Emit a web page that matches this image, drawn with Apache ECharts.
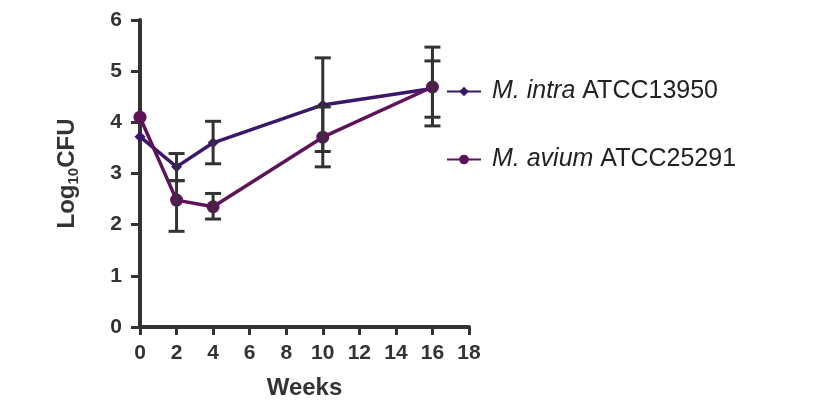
<!DOCTYPE html>
<html><head><meta charset="utf-8">
<script src="https://cdn.jsdelivr.net/npm/echarts@6/dist/echarts.min.js"></script>
<style>html,body{margin:0;padding:0;background:#fff}#c{width:827px;height:410px}</style>
</head><body><div id="c"></div>
<script>
const weeks = [0, 2, 4, 10, 16];
const intraMean = [3.72, 3.13, 3.60, 4.34, 4.66];
const intraLow  = [3.72, 2.86, 3.19, 3.43, 4.10];
const intraHigh = [3.72, 3.39, 4.02, 5.26, 5.20];
const aviumMean = [4.10, 2.48, 2.35, 3.71, 4.69];
const aviumLow  = [4.10, 1.87, 2.11, 3.13, 3.93];
const aviumHigh = [4.10, 2.86, 2.61, 4.30, 5.47];
const xTicks = [0, 2, 4, 6, 8, 10, 12, 14, 16, 18];
const yTicks = [0, 1, 2, 3, 4, 5, 6];

const intraColor = '#3b176c';
const aviumColor = '#5c1358';
const axisColor = '#333333';

function errData(low, high) {
  return weeks.map((w, i) => [w, low[i], high[i]]);
}
function errRender(params, api) {
  const x = api.value(0), lo = api.value(1), hi = api.value(2);
  if (lo === hi) return null;
  const pLo = api.coord([x, lo]), pHi = api.coord([x, hi]);
  const hw = 8;
  const st = {stroke: axisColor, lineWidth: 3};
  return {type: 'group', children: [
    {type: 'line', shape: {x1: pLo[0], y1: pLo[1], x2: pHi[0], y2: pHi[1]}, style: st},
    {type: 'line', shape: {x1: pLo[0]-hw, y1: pLo[1], x2: pLo[0]+hw, y2: pLo[1]}, style: st},
    {type: 'line', shape: {x1: pHi[0]-hw, y1: pHi[1], x2: pHi[0]+hw, y2: pHi[1]}, style: st}
  ]};
}

const chart = echarts.init(document.getElementById('c'));
const ff = 'Liberation Sans, Arial, sans-serif';
const labelFont = {fontFamily: ff, fontWeight: 'bold', fontSize: 21, color: '#333'};
chart.setOption({
  animation: false,
  grid: {left: 140, right: 358, top: 20, bottom: 83, containLabel: false},
  legend: {
    orient: 'vertical', left: 441, top: 74, itemGap: 43,
    itemWidth: 34, itemHeight: 12,
    data: ['intra', 'avium'],
    formatter: function(n) {
      return n === 'intra' ? '{i|M. intra} ATCC13950' : '{i|M. avium} ATCC25291';
    },
    textStyle: {fontFamily: ff, fontSize: 25, color: '#222', padding: [0, 0, 0, 6],
      rich: {i: {fontStyle: 'italic', fontFamily: ff, fontSize: 25, color: '#222'}}}
  },
  xAxis: {
    type: 'value', min: 0, max: 18, interval: 2,
    name: 'Weeks', nameLocation: 'middle', nameGap: 49,
    nameTextStyle: Object.assign({}, labelFont, {fontSize: 24}),
    axisLine: {lineStyle: {color: axisColor, width: 4}},
    axisTick: {length: 8, lineStyle: {color: axisColor, width: 3}},
    axisLabel: Object.assign({}, labelFont, {margin: 16}),
    splitLine: {show: false}
  },
  yAxis: {
    type: 'value', min: 0, max: 6, interval: 1,
    name: '{a|Log}{s|10}{a|CFU}', nameLocation: 'middle', nameGap: 59,
    nameTextStyle: Object.assign({}, labelFont, {rich: {
      a: Object.assign({}, labelFont, {fontSize: 24}),
      s: Object.assign({}, labelFont, {fontSize: 15, padding: [12, 0, 0, 0]})
    }}),
    axisLine: {show: true, lineStyle: {color: axisColor, width: 4}},
    axisTick: {show: true, length: 9, lineStyle: {color: axisColor, width: 3}},
    axisLabel: Object.assign({}, labelFont, {margin: 18}),
    splitLine: {show: false}
  },
  series: [
    {name: 'intra', type: 'line', data: weeks.map((w, i) => [w, intraMean[i]]),
      symbol: 'diamond', symbolSize: 11, color: intraColor,
      lineStyle: {width: 3.5, color: intraColor}, itemStyle: {color: intraColor}, z: 3},
    {name: 'avium', type: 'line', data: weeks.map((w, i) => [w, aviumMean[i]]),
      symbol: 'circle', symbolSize: 13, color: aviumColor,
      lineStyle: {width: 3.5, color: aviumColor}, itemStyle: {color: aviumColor}, z: 3},
    {type: 'custom', data: errData(intraLow, intraHigh), renderItem: errRender, z: 4, silent: true},
    {type: 'custom', data: errData(aviumLow, aviumHigh), renderItem: errRender, z: 4, silent: true}
  ]
});
</script></body></html>
